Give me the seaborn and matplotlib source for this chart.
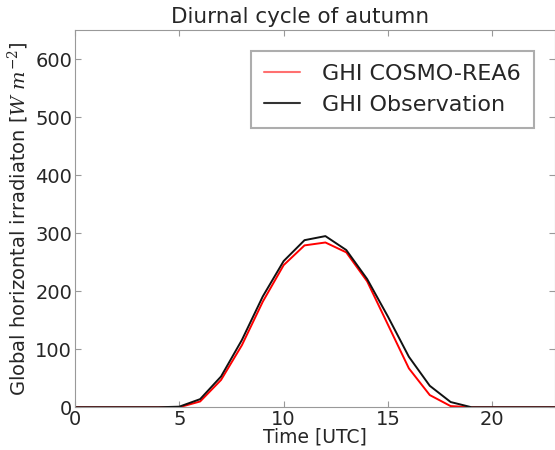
import matplotlib
matplotlib.use("Agg")
import matplotlib.pyplot as plt
import seaborn as sns
import pandas as pd

hours = list(range(0, 24))
ghi_cosmo = [0, 0, 0, 0, 0, 0, 10, 47, 107, 182, 245, 279, 284, 267, 217, 142, 67, 21, 2, 0, 0, 0, 0, 0]
ghi_obs = [0, 0, 0, 0, 0, 1, 14, 53, 116, 191, 252, 288, 295, 271, 221, 156, 87, 37, 9, 0, 0, 0, 0, 0]

sns.set_style("white")
plt.rcParams['font.family'] = ['DejaVu Sans']
plt.rcParams['mathtext.fontset'] = 'dejavuserif'

df = pd.DataFrame({"hour": hours * 2,
                   "ghi": ghi_cosmo + ghi_obs,
                   "src": ["GHI COSMO-REA6"] * 24 + ["GHI Observation"] * 24})

fig = plt.figure(figsize=(5.55, 4.5), dpi=100)
ax = fig.add_axes([0.135, 0.095, 0.865, 0.838])
sns.lineplot(data=df, x="hour", y="ghi", hue="src",
             palette={"GHI COSMO-REA6": "red", "GHI Observation": "#111111"},
             linewidth=1.4, ax=ax)
ax.set_xlim(0, 23)
ax.set_ylim(0, 650)
ax.set_xticks([0, 5, 10, 15, 20])
ax.set_yticks([0, 100, 200, 300, 400, 500, 600])
ax.tick_params(labelsize=14, direction='in', length=4, color='#999999',
               top=True, right=True, bottom=True, left=True, pad=2)
for s in ax.spines.values():
    s.set_color('#999999')
ax.set_title("Diurnal cycle of autumn", fontsize=15.5, pad=5, x=0.47)
ax.set_xlabel("Time [UTC]", fontsize=13.5, labelpad=-1)
ax.set_ylabel(r"Global horizontal irradiaton [$W\ m^{-2}$]", fontsize=14, labelpad=3)
leg = ax.legend(loc="upper right", fontsize=16, frameon=True, fancybox=False,
                bbox_to_anchor=(0.98, 0.975), borderpad=0.6, handlelength=1.6,
                handletextpad=1.0, labelspacing=0.5)
leg.get_frame().set_edgecolor('#999999')
leg.get_frame().set_linewidth(1.5)
for l, c in zip(leg.get_lines(), ["#ff7070", "#333333"]):
    l.set_linewidth(1.5)
    l.set_color(c)
fig.savefig("out.png", dpi=100)
